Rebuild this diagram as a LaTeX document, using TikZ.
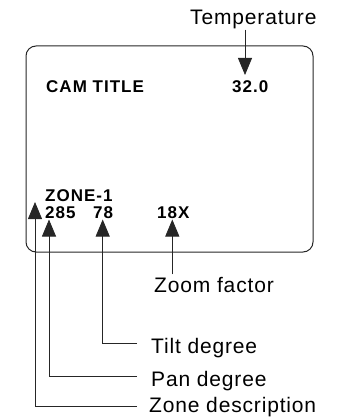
\documentclass[tikz,border=0pt]{standalone}
\usepackage{fontspec}
\setmainfont{Liberation Sans}
\newfontfamily\osdfont[LetterSpace=6]{Liberation Sans}
\newfontfamily\lblfont[LetterSpace=4]{Liberation Sans}
\usepackage{tikz}
\usetikzlibrary{arrows.meta,positioning}

\tikzset{
  osd/.style={font=\osdfont\bfseries\fontsize{17}{17}\selectfont, inner sep=0pt, anchor=base west},
  lbl/.style={font=\lblfont\fontsize{21}{21}\selectfont, inner sep=0pt, anchor=base west},
  lead/.style={draw=black!85, line width=0.8pt, -{Triangle[width=14pt,length=17pt]}},
}

\begin{document}
\begin{tikzpicture}[x=1pt,y=-1pt]
    \useasboundingbox (0,0) rectangle (345,417);
    % screen
    \draw[black!85, line width=1pt, rounded corners=10pt] (26,46) rectangle (313,252);
    % on-screen texts
    \node[osd] (camtitle) at (46,92.7) {CAM TITLE};
    \node[osd] (tempval) at (232,92.7) {32.0};
    \node[osd] (zone) at (45,201.5) {ZONE-1};
    \node[osd] (pan) at (45,218.5) {285};
    \node[osd] (tilt) at (93,218.5) {78};
    \node[osd] (zoomval) at (157,218.5) {18X};
    % arrow tips
    \coordinate (temptip) at (245,75);
    \coordinate (zonetip) at (35,202);
    \coordinate (pantip) at (49,219.5);
    \coordinate (tilttip) at (102.7,219.5);
    \coordinate (zoomtip) at (172.3,219.5);
    % labels
    \node[lbl] (templbl) at (190,25) {Temperature};
    \node[lbl, inner ysep=3pt] (zoomlbl) at (154,292.7) {Zoom factor};
    \node[lbl] (tiltlbl) at (151,353) {Tilt degree};
    \node[lbl] (panlbl) at (151,386.5) {Pan degree};
    \node[lbl] (zonelbl) at (149,412) {Zone description};
    % leaders
    \draw[lead] (templbl.south -| temptip) -- (temptip);
    \draw[lead] (zoomlbl.north -| zoomtip) -- (zoomtip);
    \draw[lead] ([xshift=-14pt,yshift=10pt]tiltlbl.base west) -| (tilttip);
    \draw[lead] ([xshift=-14pt,yshift=10pt]panlbl.base west) -| (pantip);
    \draw[lead] ([xshift=-12pt,yshift=6pt]zonelbl.base west) -| (zonetip);
\end{tikzpicture}
\end{document}
